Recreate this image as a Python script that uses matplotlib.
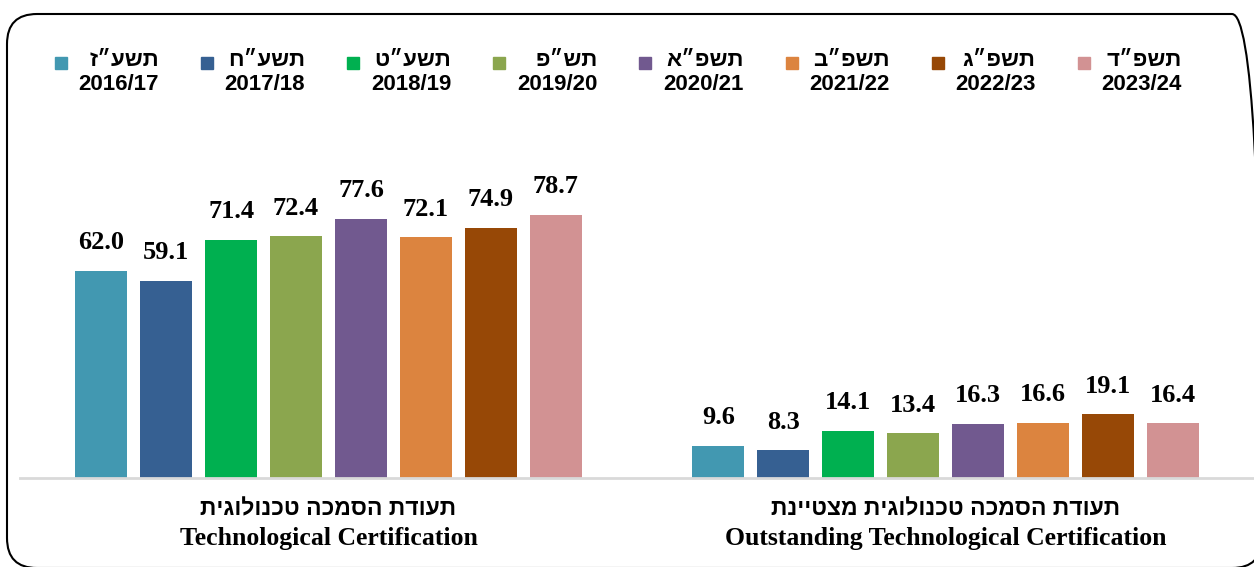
import numpy as np
import matplotlib
matplotlib.use('Agg')
import matplotlib.pyplot as plt
from matplotlib.patches import FancyBboxPatch, Rectangle
from matplotlib.transforms import IdentityTransform

# data
years = ['2016/17', '2017/18', '2018/19', '2019/20', '2020/21', '2021/22', '2022/23', '2023/24']
heb_years = ['תשע״ז', 'תשע״ח', 'תשע״ט', 'תש״פ', 'תשפ״א', 'תשפ״ב', 'תשפ״ג', 'תשפ״ד']
technological = [62.0, 59.1, 71.4, 72.4, 77.6, 72.1, 74.9, 78.7]
outstanding = [9.6, 8.3, 14.1, 13.4, 16.3, 16.6, 19.1, 16.4]
groups_heb = ['תעודת הסמכה טכנולוגית', 'תעודת הסמכה טכנולוגית מצטיינת']
groups_en = ['Technological Certification', 'Outstanding Technological Certification']
colors = ['#4298B1', '#366092', '#00B050', '#8BA64E', '#71598F', '#DC843F', '#974806', '#D29293']

W, H = 1254, 567
SERIF = ['Liberation Serif', 'DejaVu Sans']
SANS = ['Liberation Sans', 'DejaVu Sans']


def rtl(s):
    # matplotlib has no bidi support, so flip hebrew by hand
    return s[::-1]


def fx(x):
    return x / W


def fy(y):
    return 1 - y / H


fig = plt.figure(figsize=(W / 100, H / 100), dpi=100)
ax = fig.add_axes([fx(20), fy(478), 1 - fx(20), fy(144) - fy(478)])

n = len(years)
pitch = 0.1052
width = 0.084
centers = np.arange(2)
for i in range(n):
    xs = centers + (i - (n - 1) / 2) * pitch
    bars = ax.bar(xs, [technological[i], outstanding[i]], width=width, color=colors[i])
    ax.bar_label(bars, fmt='%.1f', padding=12, fontsize=19, fontweight='bold',
                 family=SERIF)

ax.set_xlim(-0.5, 1.5)
ax.set_ylim(0, 100)
ax.set_yticks([])
ax.set_xticks([])
for side in ['top', 'left', 'right']:
    ax.spines[side].set_visible(False)
ax.spines['bottom'].set_color('#D9D9D9')
ax.spines['bottom'].set_linewidth(2)

# category labels: hebrew line over english line
for c, heb, en in zip(centers, groups_heb, groups_en):
    ax.annotate(rtl(heb), xy=(c, 0), xycoords=('data', 'axes fraction'),
                xytext=(0, -37), textcoords='offset pixels', ha='center', va='baseline',
                fontsize=16.5, fontweight='bold', family=SANS, annotation_clip=False)
    ax.annotate(en, xy=(c, 0), xycoords=('data', 'axes fraction'),
                xytext=(0, -67), textcoords='offset pixels', ha='center', va='baseline',
                fontsize=18.5, fontweight='bold', family=SERIF, annotation_clip=False)

# legend drawn by hand: square, hebrew year, gregorian year under it
for i in range(n):
    xr = 159 + i * 146.1
    fig.add_artist(Rectangle((fx(xr - 104), fy(69)), fx(12), fy(57) - fy(69),
                             transform=fig.transFigure, color=colors[i]))
    fig.text(fx(xr), fy(61), rtl(heb_years[i]), ha='right', va='center',
             fontsize=16, fontweight='bold', family=SANS)
    fig.text(fx(xr), fy(85), years[i], ha='right', va='center',
             fontsize=16, fontweight='bold', family=SANS)

# rounded frame in pixels, running off the right and bottom edges like the original
fig.add_artist(FancyBboxPatch((7, H - 568), 1262 - 7, 568 - 14,
                              boxstyle='round,pad=0,rounding_size=30',
                              transform=IdentityTransform(), fill=False,
                              edgecolor='black', linewidth=1.5))

fig.savefig('out.png', dpi=100)
